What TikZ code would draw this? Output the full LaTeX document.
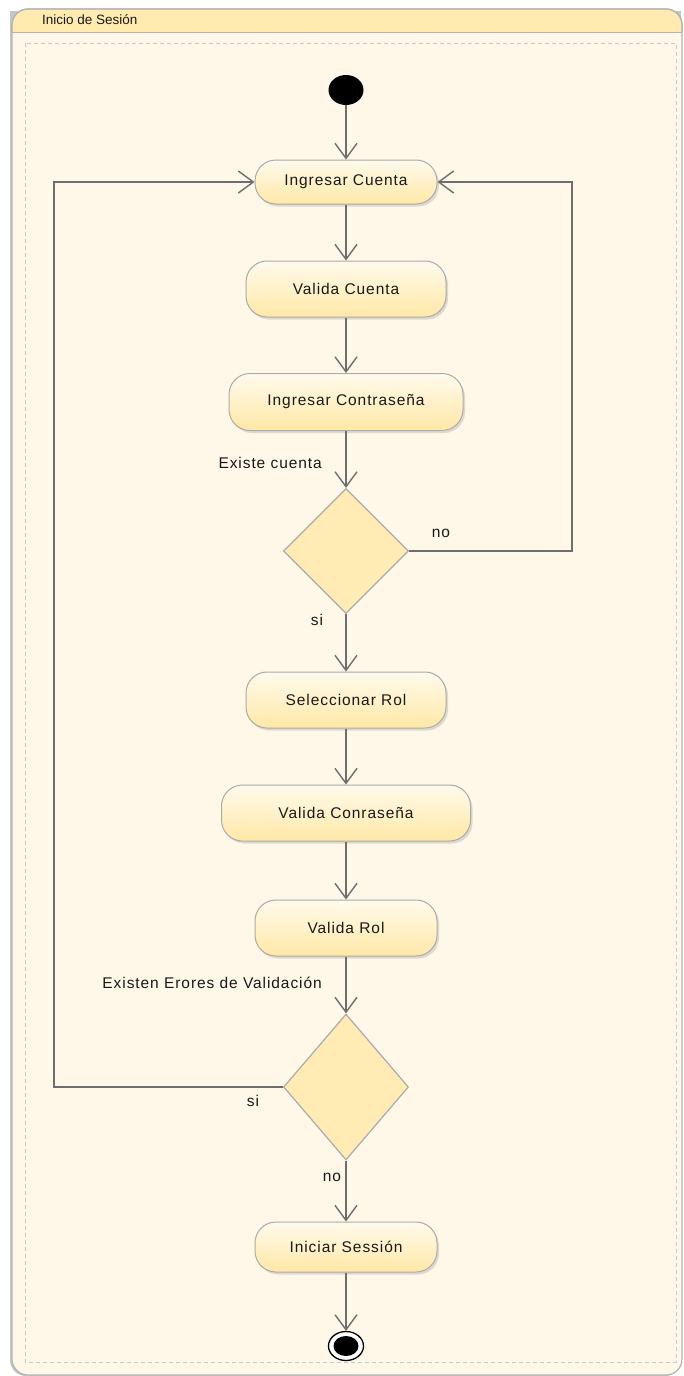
\documentclass[tikz,border=0pt]{standalone}
\usepackage{fontspec}
\setmainfont{Liberation Sans}
\newfontfamily\lblfont[LetterSpace=6]{Liberation Sans}
\usetikzlibrary{arrows.meta,shapes.geometric,shadows}
\definecolor{framebg}{HTML}{FFF8E8}
\definecolor{headbg}{HTML}{FFEBB0}
\definecolor{framegray}{HTML}{B4B4B4}
\definecolor{dashgray}{HTML}{C8C8C8}
\definecolor{linegray}{HTML}{6E6E6E}
\definecolor{nodetop}{HTML}{FFFAEC}
\definecolor{nodebot}{HTML}{FFE8A6}
\definecolor{nodeborder}{HTML}{ABABAB}
\definecolor{diafill}{HTML}{FFEBB3}
\tikzset{
  actbox/.style={rectangle, rounded corners=21pt, draw=nodeborder, line width=1pt,
    top color=nodetop, bottom color=nodebot, font=\lblfont\fontsize{15.5}{17}\selectfont,
    text=black!90, inner sep=0pt,
    drop shadow={shadow xshift=2pt, shadow yshift=-2.5pt, opacity=0.25}},
  decision/.style={diamond, draw=nodeborder, line width=1.2pt, fill=diafill,
    inner sep=0pt, minimum width=125pt},
  flow/.style={draw=linegray, line width=1.4pt,
    -{Straight Barb[length=15pt,width=22pt,line width=1.4pt]}},
  lbl/.style={font=\lblfont\fontsize{15.5}{17}\selectfont, text=black!90, inner sep=0pt},
}
\begin{document}
\begin{tikzpicture}[x=1pt,y=-1pt]
\useasboundingbox (0,0) rectangle (683,1376);
% frame
\fill[gray!45] (10,11) [rounded corners=16pt] -- (10,1376) -- (681,1376) [sharp corners]-- (681,11);
\path[fill=framebg, draw=framegray, line width=1.2pt, rounded corners=16pt]
  (12,9) rectangle (682,1375);
\path[fill=headbg, rounded corners=16pt] (12.6,32) -- (12.6,9.6) -- (681.4,9.6) [sharp corners]-- (681.4,32) -- cycle;
\draw[framegray, line width=1.2pt, rounded corners=16pt] (12,32) -- (12,9) -- (682,9) -- (682,32);
\draw[framegray, line width=1pt] (12,32) -- (682,32);
\draw[dashgray, line width=0.8pt, dash pattern=on 4pt off 3pt] (25,43) rectangle (676,1362);
\node[anchor=west, font=\fontsize{13.5}{15}\selectfont, text=black!90, inner sep=0pt] (title) at (42,20) {Inicio de Sesión};
% nodes
\node[ellipse, fill=black, inner sep=0pt, minimum width=35pt, minimum height=30pt] (start) at (346,90) {};
\node[actbox, minimum width=182pt, minimum height=44pt] (n1) at (346,182) {Ingresar Cuenta};
\node[actbox, minimum width=200pt, minimum height=56pt] (n2) at (346,289) {Valida Cuenta};
\node[actbox, minimum width=234pt, minimum height=57pt] (n3) at (346,402) {Ingresar Contraseña};
\node[decision, minimum height=125pt] (d1) at (346,551) {};
\node[actbox, minimum width=200pt, minimum height=56pt] (n4) at (346,700) {Seleccionar Rol};
\node[actbox, minimum width=249pt, minimum height=56pt] (n5) at (346,813) {Valida Conraseña};
\node[actbox, minimum width=182pt, minimum height=56pt] (n6) at (346,928) {Valida Rol};
\node[decision, minimum height=146pt] (d2) at (346,1087) {};
\node[actbox, minimum width=182pt, minimum height=50pt] (n7) at (346,1247) {Iniciar Sessión};
\node[ellipse, draw=black, line width=1.3pt, fill=white, inner sep=0pt, minimum width=35pt, minimum height=29pt] (end) at (346,1346) {};
\node[ellipse, fill=black, inner sep=0pt, minimum width=25pt, minimum height=20pt] (endin) at (346,1346) {};
% labels
\node[lbl, anchor=east] (l1) at (322,463) {Existe cuenta};
\node[lbl] (l2) at (441,533) {no};
\node[lbl] (l3) at (317,620) {si};
\node[lbl, anchor=east] (l4) at (322,983) {Existen Erores de Validación};
\node[lbl] (l5) at (253,1101) {si};
\node[lbl] (l6) at (332,1177) {no};
% connectors
\coordinate (rc) at (572,551);
\coordinate (lc) at (54,1087);
\draw[flow] (start) -- (n1);
\draw[flow] (n1) -- (n2);
\draw[flow] (n2) -- (n3);
\draw[flow] (n3) -- (d1);
\draw[flow] (d1) -- (n4);
\draw[flow] (n4) -- (n5);
\draw[flow] (n5) -- (n6);
\draw[flow] (n6) -- (d2);
\draw[flow] (d2) -- (n7);
\draw[flow] (n7) -- (end);
\draw[flow] (d1.east) -- (rc) |- (n1.east);
\draw[flow] (d2.west) -- (lc) |- (n1.west);
\end{tikzpicture}
\end{document}
